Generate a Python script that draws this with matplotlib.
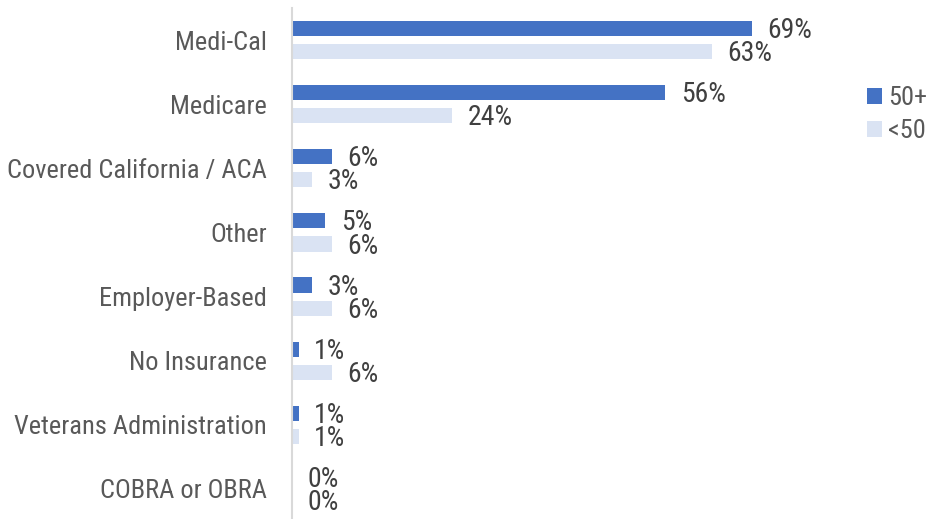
import matplotlib
matplotlib.use("Agg")
import matplotlib.pyplot as plt
from matplotlib import font_manager
import numpy as np

# pick a condensed face if one is around, else plain Liberation Sans, a bit smaller
font_size = 15.5
family = "Liberation Sans"
for cand in ["Liberation Sans Narrow", "Roboto Condensed", "Open Sans Condensed", "Arial Narrow"]:
    try:
        font_manager.findfont(font_manager.FontProperties(family=cand), fallback_to_default=False)
        family = cand
        font_size = 19
        break
    except ValueError:
        pass
plt.rcParams['font.family'] = [family, 'DejaVu Sans']

categories = ["Medi-Cal", "Medicare", "Covered California / ACA", "Other",
              "Employer-Based", "No Insurance", "Veterans Administration", "COBRA or OBRA"]
over50 = [69, 56, 6, 5, 3, 1, 1, 0]
under50 = [63, 24, 3, 6, 6, 6, 1, 0]
series_names = ["50+", "<50"]
colors = ["#4472C4", "#DAE3F3"]
label_color = "#595959"
value_color = "#404040"

fig = plt.figure(figsize=(9.3, 5.19), dpi=100)
# axes placed in pixel terms: left edge at x=292, top at y=8
ax = fig.add_axes([292 / 930, (519 - 521) / 519, (800 - 292) / 930, 513 / 519])

y = np.arange(len(categories))
off = 0.18
h = 0.235
b1 = ax.barh(y - off, over50, height=h, color=colors[0], label=series_names[0])
b2 = ax.barh(y + off, under50, height=h, color=colors[1], label=series_names[1])

for bars, vals in ((b1, over50), (b2, under50)):
    for bar, v in zip(bars, vals):
        ax.annotate(f"{v}%", (bar.get_width(), bar.get_y() + bar.get_height() / 2),
                    xytext=(11, -1.5), textcoords="offset points",
                    va="center", ha="left", fontsize=font_size + 1, color=value_color)

ax.set_xlim(0, (800 - 292) / (460 / 69))
ax.set_ylim(len(categories) - 0.5, -0.5)
ax.set_yticks(y)
ax.set_yticklabels(categories, fontsize=font_size, color=label_color)
ax.tick_params(axis="y", length=0, pad=18)
ax.set_xticks([])
for s in ["top", "right", "bottom"]:
    ax.spines[s].set_visible(False)
ax.spines["left"].set_color("#D9D9D9")
ax.spines["left"].set_linewidth(1.5)

fig.legend(handles=[b1, b2], labels=series_names, loc="upper left",
           bbox_to_anchor=(867 / 930, 1 - 86 / 519), frameon=False,
           fontsize=font_size, labelcolor=label_color, handlelength=0.55, handleheight=0.55,
           handletextpad=0.25, labelspacing=0.35, borderaxespad=0, borderpad=0)

fig.savefig("out.png", dpi=100)
